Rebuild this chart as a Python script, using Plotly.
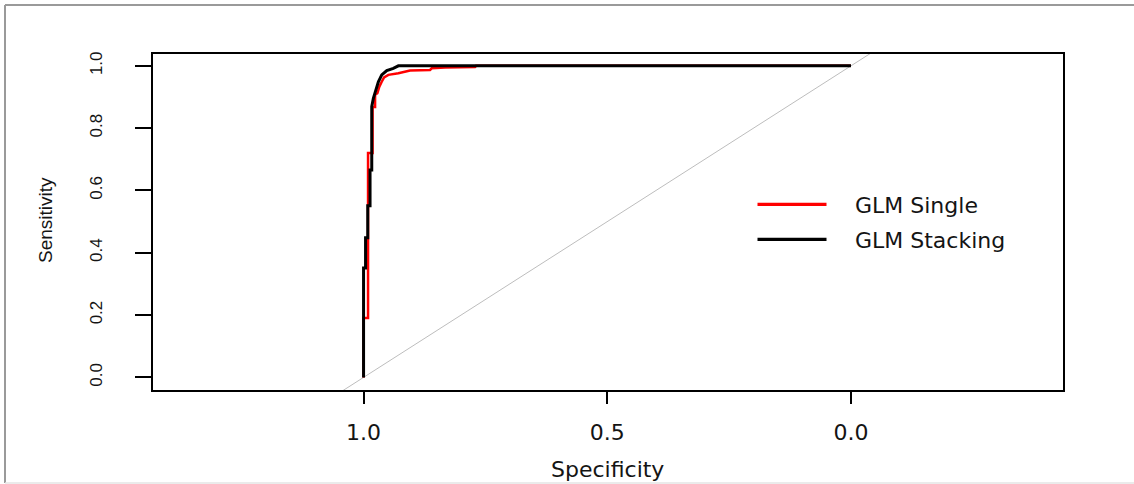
import plotly.graph_objects as go

# ROC curve coordinates (specificity, sensitivity)
single_spec = [1.0, 1.0, 0.9908, 0.9908, 0.9815, 0.9815, 0.9764, 0.9764, 0.9717, 0.9676,
               0.9627, 0.9579, 0.9491, 0.9286, 0.9046, 0.8636, 0.8601, 0.8328, 0.7713,
               0.7692, 0.0]
single_sens = [0.0, 0.191, 0.191, 0.720, 0.720, 0.868, 0.868, 0.907, 0.912, 0.933,
               0.949, 0.963, 0.971, 0.976, 0.985, 0.987, 0.992, 0.995, 0.996,
               1.0, 1.0]

stack_spec = [1.0, 1.0, 0.9959, 0.9959, 0.9914, 0.9914, 0.9867, 0.9867, 0.9832, 0.9832,
              0.9799, 0.9744, 0.9696, 0.9627, 0.9524, 0.9389, 0.9286, 0.0]
stack_sens = [0.0, 0.351, 0.351, 0.448, 0.448, 0.551, 0.551, 0.666, 0.666, 0.869,
              0.896, 0.923, 0.949, 0.971, 0.985, 0.992, 1.0, 1.0]

diag_spec = [1.6, -0.6]
diag_sens = [1 - s for s in diag_spec]

x_ticks = [1.0, 0.5, 0.0]
x_tick_labels = ["1.0", "0.5", "0.0"]
y_ticks = [0.0, 0.2, 0.4, 0.6, 0.8, 1.0]
y_tick_labels = ["0.0", "0.2", "0.4", "0.6", "0.8", "1.0"]

series_names = ["GLM Single", "GLM Stacking"]
series_colors = ["#ff0000", "#000000"]

HFONT = "DejaVu Sans"
VFONT = "Liberation Sans"
TXT = "#141414"

fig = go.Figure()
fig.add_trace(go.Scatter(x=diag_spec, y=diag_sens, mode="lines",
                         line=dict(color="#bdbdbd", width=1), showlegend=False,
                         hoverinfo="skip"))
fig.add_trace(go.Scatter(x=single_spec, y=single_sens, mode="lines", name=series_names[0],
                         line=dict(color=series_colors[0], width=2.5), showlegend=False))
fig.add_trace(go.Scatter(x=stack_spec, y=stack_sens, mode="lines", name=series_names[1],
                         line=dict(color=series_colors[1], width=3), showlegend=False))

W, H = 1134, 484
L, R, T, B = 153, 71, 54, 94
pw, ph = W - L - R, H - T - B


def px(x):
    return (x - L) / pw


def py(y):
    return (H - B - y) / ph


shapes = []
# outer frame
shapes.append(dict(type="line", xref="paper", yref="paper", x0=px(5), x1=px(5),
                   y0=py(5), y1=py(483), line=dict(color="#9a9a9a", width=2)))
shapes.append(dict(type="line", xref="paper", yref="paper", x0=px(5), x1=px(1134),
                   y0=py(5), y1=py(5), line=dict(color="#9a9a9a", width=2)))
shapes.append(dict(type="line", xref="paper", yref="paper", x0=px(5), x1=px(1134),
                   y0=py(483), y1=py(483), line=dict(color="#e4e4e4", width=1.5)))
# legend keys
leg_y = [204.3, 239.3]
for i in range(2):
    shapes.append(dict(type="line", xref="paper", yref="paper", x0=px(757.5), x1=px(826.5),
                       y0=py(leg_y[i]), y1=py(leg_y[i]),
                       line=dict(color=series_colors[i], width=3.3)))

annotations = []
for i in range(2):
    annotations.append(dict(text=series_names[i], xref="paper", yref="paper",
                            x=px(853), y=py(leg_y[i] + 1.5), xanchor="left", yanchor="middle",
                            showarrow=False, font=dict(family=HFONT, size=22, color=TXT)))
annotations.append(dict(text="Specificity", xref="paper", yref="paper", x=px(607), y=py(469),
                        xanchor="center", yanchor="middle", showarrow=False,
                        font=dict(family=HFONT, size=22, color=TXT)))
annotations.append(dict(text="Sensitivity", xref="paper", yref="paper", x=px(45), y=py(220),
                        xanchor="center", yanchor="middle", showarrow=False, textangle=-90,
                        font=dict(family=VFONT, size=19, color=TXT)))

fig.update_layout(
    width=W, height=H, autosize=False,
    margin=dict(l=L, r=R, t=T, b=B, pad=0),
    paper_bgcolor="white", plot_bgcolor="white",
    shapes=shapes, annotations=annotations,
    xaxis=dict(range=[1.432, -0.435], tickvals=x_ticks, ticktext=x_tick_labels,
               ticks="outside", ticklen=12, tickwidth=1.5, tickcolor="black",
               showline=True, mirror=True, linecolor="black", linewidth=1.5,
               showgrid=False, zeroline=False, ticklabelstandoff=10,
               tickfont=dict(family=HFONT, size=22, color=TXT)),
    yaxis=dict(range=[-0.0405, 1.038], tickvals=y_ticks, ticktext=y_tick_labels,
               ticks="outside", ticklen=16, tickwidth=1.5, tickcolor="black",
               showline=True, mirror=True, linecolor="black", linewidth=1.5,
               showgrid=False, zeroline=False, tickangle=-90, ticklabelstandoff=26,
               tickfont=dict(family=VFONT, size=17, color=TXT)),
)

fig.write_html("out.html", config={"displayModeBar": False},
               post_script="document.body.style.margin='0';document.body.style.overflow='hidden';")
